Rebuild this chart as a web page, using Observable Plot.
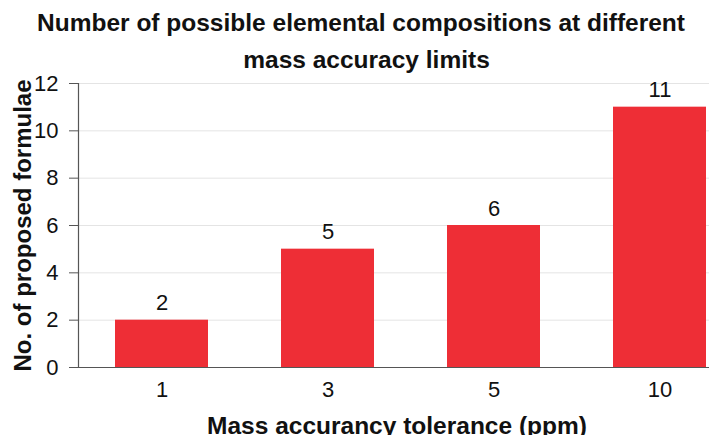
<!DOCTYPE html>
<html>
<head>
<meta charset="utf-8">
<script src="https://cdn.jsdelivr.net/npm/d3@7"></script>
<script src="https://cdn.jsdelivr.net/npm/@observablehq/plot@0.6"></script>
<style>
  html, body { margin: 0; padding: 0; background: #fff; }
  #chart svg { font-family: "Liberation Sans", Arial, Helvetica, sans-serif; display: block; }
</style>
</head>
<body>
<div id="chart"></div>
<script>
const tolerances = ["1", "3", "5", "10"];
const counts = [2, 5, 6, 11];
const yTicks = [0, 2, 4, 6, 8, 10, 12];
const titleLines = ["Number of possible elemental compositions at different", "mass accuracy limits"];
const xLabel = "Mass accurancy tolerance (ppm)";
const yLabel = "No. of proposed formulae";

const data = tolerances.map((t, i) => ({tol: t, n: counts[i]}));

const W = 709, H = 435;
const plot = Plot.plot({
  width: W,
  height: H,
  marginTop: 83,
  marginBottom: 68,
  marginLeft: 78,
  marginRight: 0,
  style: {fontFamily: "Liberation Sans, Arial, sans-serif", background: "#fff", overflow: "visible"},
  x: {type: "band", domain: tolerances, range: [78, 742], paddingInner: 0.44, paddingOuter: 0.21},
  y: {domain: [0, 12]},
  marks: [
    Plot.gridY(yTicks, {stroke: "#e4e4e4", strokeOpacity: 1}),
    Plot.barY(data, {x: "tol", y: "n", fill: "#ee2e36"}),
    Plot.text(data, {x: "tol", y: "n", text: d => String(d.n), fontSize: 22, fill: "#111", dy: -17}),
    Plot.ruleY([0], {stroke: "#555", strokeWidth: 1.2}),
    Plot.frame({anchor: "left", stroke: "#555", strokeWidth: 1.2}),
    Plot.axisY(yTicks, {tickSize: 9, tickPadding: 11, fontSize: 22, color: "#111", stroke: "#555", label: null}),
    Plot.axisX({tickSize: 0, tickPadding: 14, fontSize: 22, color: "#111", label: null}),
    Plot.text([titleLines[0]], {frameAnchor: "top", dx: -33, dy: -70, fontSize: 24.5, fontWeight: "bold", fill: "#111"}),
    Plot.text([titleLines[1]], {frameAnchor: "top", dx: -27.5, dy: -33, fontSize: 24.5, fontWeight: "bold", fill: "#111"}),
    Plot.text([xLabel], {frameAnchor: "bottom", dx: 3, dy: 66, fontSize: 24.5, fontWeight: "bold", fill: "#111"}),
    Plot.text([yLabel], {frameAnchor: "left", textAnchor: "middle", dx: -55, rotate: -90, fontSize: 24, fontWeight: "bold", fill: "#111"})
  ]
});
document.getElementById("chart").appendChild(plot);
</script>
</body>
</html>
